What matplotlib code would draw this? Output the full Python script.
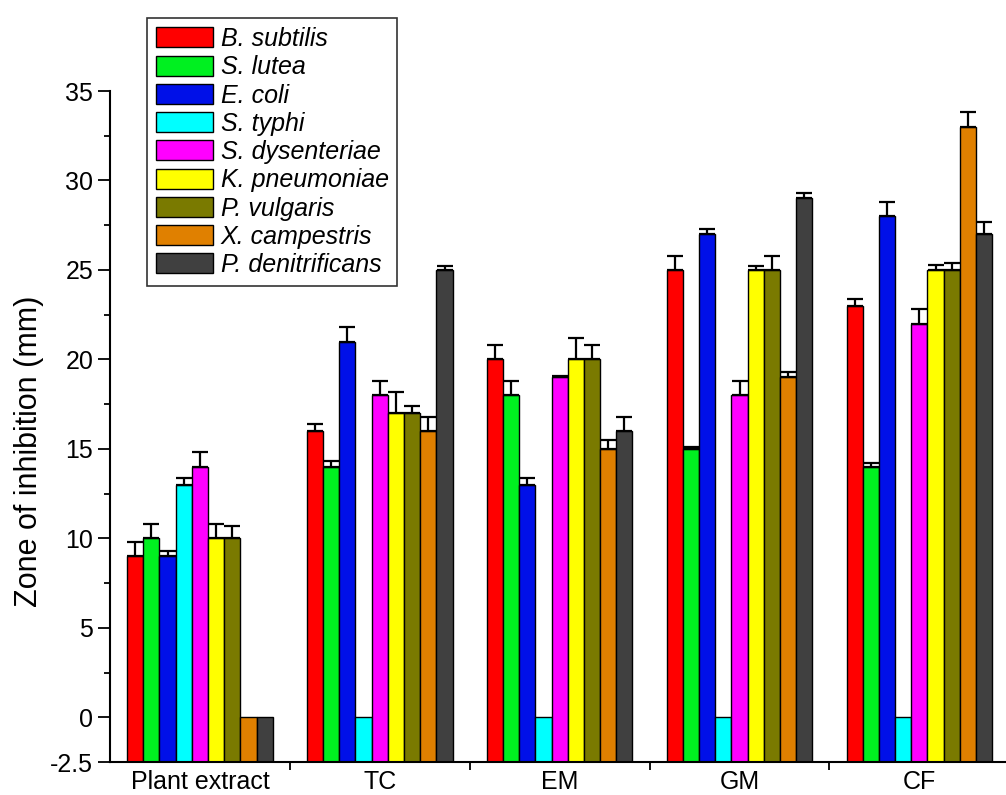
import numpy as np
import matplotlib
matplotlib.use("Agg")
import matplotlib.pyplot as plt

plt.rcParams["font.family"] = ["Liberation Sans", "DejaVu Sans"]

groups = ["Plant extract", "TC", "EM", "GM", "CF"]
strains = ["B. subtilis", "S. lutea", "E. coli", "S. typhi", "S. dysenteriae",
           "K. pneumoniae", "P. vulgaris", "X. campestris", "P. denitrificans"]
colors = ["#ff0000", "#00f020", "#0010e8", "#00ffff", "#ff00ff",
          "#ffff00", "#7a7a00", "#e08000", "#404040"]

# zone of inhibition (mm), one row per strain, columns follow groups
values = [
    [9, 16, 20, 25, 23],
    [10, 14, 18, 15, 14],
    [9, 21, 13, 27, 28],
    [13, 0, 0, 0, 0],
    [14, 18, 19, 18, 22],
    [10, 17, 20, 25, 25],
    [10, 17, 20, 25, 25],
    [0, 16, 15, 19, 33],
    [0, 25, 16, 29, 27],
]
errors = [
    [0.8, 0.4, 0.8, 0.8, 0.4],
    [0.8, 0.3, 0.8, 0.1, 0.2],
    [0.3, 0.8, 0.4, 0.3, 0.8],
    [0.4, 0, 0, 0, 0],
    [0.8, 0.8, 0.1, 0.8, 0.8],
    [0.8, 1.2, 1.2, 0.2, 0.3],
    [0.7, 0.4, 0.8, 0.8, 0.4],
    [0, 0.8, 0.5, 0.3, 0.8],
    [0, 0.2, 0.8, 0.3, 0.7],
]

base = -2.5
width = 0.09

fig = plt.figure(figsize=(10.06, 7.95), dpi=100)
ax = fig.add_axes([0.1093, 0.0415, 0.894, 0.844])

x = np.arange(len(groups))
for j, (name, c) in enumerate(zip(strains, colors)):
    v = np.array(values[j], dtype=float)
    e = np.array(errors[j], dtype=float)
    pos = x + (j - 4) * width
    ax.bar(pos, v - base, width, bottom=base, color=c, edgecolor="black",
           linewidth=1.0, label=name, zorder=2)
    mask = e > 0
    ax.errorbar(pos[mask], v[mask], yerr=[np.zeros(mask.sum()), e[mask]],
                fmt="none", ecolor="black", elinewidth=1.6, capsize=6,
                capthick=1.6, zorder=3)

ax.set_xlim(-0.5, 4.5)
ax.set_ylim(-2.5, 35)
ax.set_xticks(x)
ax.set_xticklabels(groups, fontsize=18)
ax.set_xticks(x[:-1] + 0.5, minor=True)
ax.tick_params(axis="x", which="major", length=0, pad=6)
ax.tick_params(axis="x", which="minor", length=6, width=1.3, direction="out")

ax.set_yticks([-2.5, 0, 5, 10, 15, 20, 25, 30, 35])
ax.set_yticklabels(["-2.5", "0", "5", "10", "15", "20", "25", "30", "35"], fontsize=18)
ax.set_yticks([2.5, 7.5, 12.5, 17.5, 22.5, 27.5, 32.5], minor=True)
ax.tick_params(axis="y", which="major", length=9, width=1.3, direction="out", pad=3)
ax.tick_params(axis="y", which="minor", length=4, width=1.3, direction="out")

ax.set_ylabel("Zone of inhibition (mm)", fontsize=22)
ax.yaxis.set_label_coords(-0.073, 0.463)

for s in ["top", "right"]:
    ax.spines[s].set_visible(False)
for s in ["left", "bottom"]:
    ax.spines[s].set_linewidth(1.5)

leg = fig.legend(loc="upper left", bbox_to_anchor=(0.146, 0.977),
                 prop={"style": "italic", "size": 18}, frameon=True,
                 fancybox=False, edgecolor="black", handlelength=2.3,
                 handleheight=0.84, labelspacing=0.17, handletextpad=0.3,
                 borderpad=0.35, borderaxespad=0)
leg.get_frame().set_linewidth(1.2)

fig.savefig("out.png", dpi=100)
